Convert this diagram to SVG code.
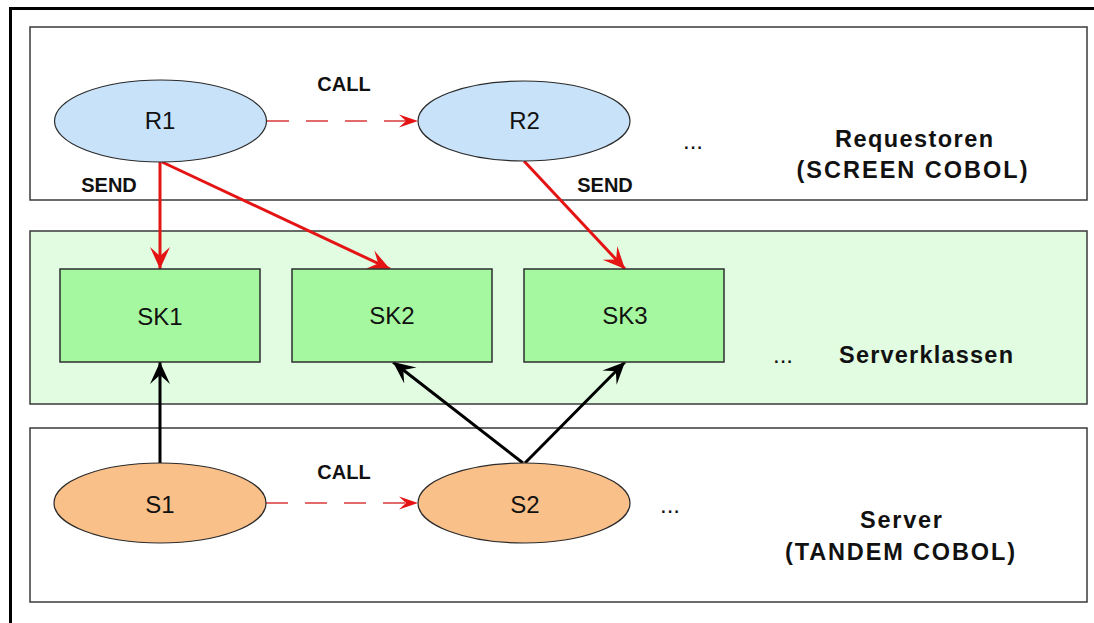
<svg xmlns="http://www.w3.org/2000/svg" width="1094" height="623" viewBox="0 0 1094 623">
<style>
.panel{stroke:#3a3a3a;stroke-width:1.5}
.ell{stroke:#2a2a2a;stroke-width:1.2}
.req{fill:#c8e2fa}
.srv{fill:#f9c08a}
.sk{fill:#a6f8a0;stroke:#2e2e2e;stroke-width:1.5}
.lbl{font-family:"Liberation Sans",Arial,sans-serif;font-size:24px;fill:#111;text-anchor:middle}
.bold{font-family:"Liberation Sans",Arial,sans-serif;font-weight:bold;font-size:20px;fill:#111;text-anchor:middle}
.side{font-family:"Liberation Sans",Arial,sans-serif;font-size:23.5px;font-weight:bold;fill:#111;text-anchor:middle}
.send{stroke:#e41414;stroke-width:3;fill:none;marker-end:url(#redHead)}
.up{stroke:#000;stroke-width:3;fill:none;marker-end:url(#blackHead)}
.call{stroke:#d83a3a;stroke-width:1.6;fill:none;stroke-dasharray:22 17;marker-end:url(#smallHead)}
</style>
<defs>
<marker id="redHead" markerUnits="userSpaceOnUse" markerWidth="24" markerHeight="22" refX="22" refY="11" orient="auto">
<path d="M0,1 L22,11 L0,21 L9,11 Z" fill="#e41414"/>
</marker>
<marker id="blackHead" markerUnits="userSpaceOnUse" markerWidth="24" markerHeight="22" refX="22" refY="11" orient="auto">
<path d="M0,1 L22,11 L0,21 L9,11 Z" fill="#000"/>
</marker>
<marker id="smallHead" markerUnits="userSpaceOnUse" markerWidth="20" markerHeight="14" refX="19" refY="7" orient="auto">
<path d="M0,0.5 L19,7 L0,13.5 L7,7 Z" fill="#e41414"/>
</marker>
</defs>
<rect x="0" y="0" width="1094" height="623" fill="#fff"/>
<g id="frame">
<line x1="9" y1="8.5" x2="1094" y2="8.5" stroke="#000" stroke-width="3"/>
<line x1="10.5" y1="7" x2="10.5" y2="623" stroke="#000" stroke-width="3"/>
</g>
<g id="panel-requestoren">
<rect class="panel" x="30" y="27" width="1057" height="173" fill="#fff"/>
<text class="side" x="914" y="147" textLength="158" lengthAdjust="spacing">Requestoren</text>
<text class="side" x="912" y="178" textLength="231" lengthAdjust="spacing">(SCREEN COBOL)</text>
<text class="lbl" x="693" y="149">...</text>
</g>
<g id="panel-serverklassen">
<rect class="panel" x="30" y="231" width="1057" height="173" fill="#e1fce1"/>
<text class="side" x="926" y="363" textLength="174" lengthAdjust="spacing">Serverklassen</text>
<text class="lbl" x="783" y="363">...</text>
</g>
<g id="panel-server">
<rect class="panel" x="30" y="428" width="1057" height="174" fill="#fff"/>
<text class="side" x="901" y="528" textLength="82" lengthAdjust="spacing">Server</text>
<text class="side" x="900" y="560" textLength="230" lengthAdjust="spacing">(TANDEM COBOL)</text>
<text class="lbl" x="670" y="513">...</text>
</g>
<g id="connectors">
<line class="send" x1="160" y1="162" x2="160" y2="269"/>
<line class="send" x1="162" y1="162" x2="390" y2="269"/>
<line class="send" x1="524" y1="161" x2="625" y2="269"/>
<line class="up" x1="160" y1="463" x2="160" y2="362"/>
<line class="up" x1="523" y1="463" x2="393" y2="362"/>
<line class="up" x1="525" y1="463" x2="625" y2="362"/>
<line class="call" x1="267" y1="121" x2="418" y2="121"/>
<line class="call" x1="266" y1="503" x2="418" y2="503"/>
<text class="bold" x="344" y="91">CALL</text>
<text class="bold" x="109" y="192">SEND</text>
<text class="bold" x="605" y="192">SEND</text>
<text class="bold" x="344" y="479">CALL</text>
</g>
<g id="R1">
<ellipse class="ell req" cx="160.5" cy="121" rx="106" ry="41"/>
<text class="lbl" x="160" y="129">R1</text>
</g>
<g id="R2">
<ellipse class="ell req" cx="524" cy="121" rx="106" ry="40"/>
<text class="lbl" x="524.5" y="129">R2</text>
</g>
<g id="SK1">
<rect class="sk" x="60" y="269" width="200" height="93"/>
<text class="lbl" x="160" y="325">SK1</text>
</g>
<g id="SK2">
<rect class="sk" x="292" y="269" width="200" height="93"/>
<text class="lbl" x="392" y="324">SK2</text>
</g>
<g id="SK3">
<rect class="sk" x="524" y="269" width="200" height="93"/>
<text class="lbl" x="625" y="324">SK3</text>
</g>
<g id="S1">
<ellipse class="ell srv" cx="160" cy="503" rx="106" ry="40"/>
<text class="lbl" x="160" y="513">S1</text>
</g>
<g id="S2">
<ellipse class="ell srv" cx="524" cy="503" rx="106" ry="40"/>
<text class="lbl" x="525" y="513">S2</text>
</g>
</svg>
